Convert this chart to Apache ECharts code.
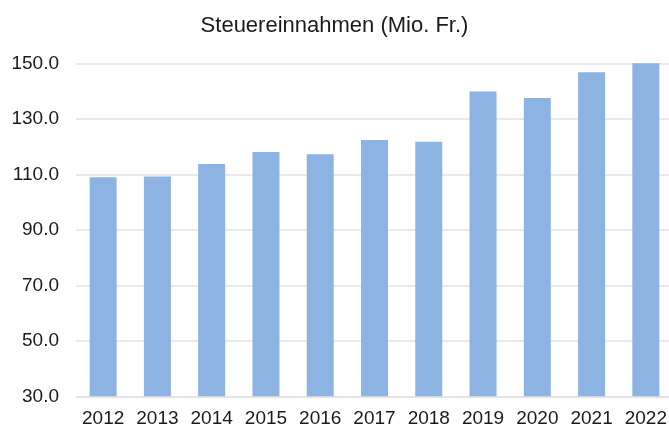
<!DOCTYPE html>
<html>
<head>
<meta charset="utf-8">
<script src="https://cdn.jsdelivr.net/npm/echarts@6/dist/echarts.min.js"></script>
<style>
  html, body { margin: 0; padding: 0; background: #fff; }
  #main { width: 669px; height: 428px; }
</style>
</head>
<body>
<div id="main"></div>
<script>
// Daten
var years = ['2012', '2013', '2014', '2015', '2016', '2017', '2018', '2019', '2020', '2021', '2022'];
var einnahmen = [108.9, 109.2, 113.7, 118.0, 117.2, 122.4, 121.7, 139.8, 137.5, 146.8, 150.0];

var myChart = echarts.init(document.getElementById('main'));

var option = {
  animation: false,
  title: {
    text: 'Steuereinnahmen (Mio. Fr.)',
    left: 'center',
    top: 10,
    textStyle: {
      fontFamily: 'Liberation Sans, Arial, sans-serif',
      fontSize: 22,
      fontWeight: 'normal',
      color: '#1a1a1a'
    }
  },
  grid: {
    left: 76,
    width: 597,
    top: 63.3,
    bottom: 31.7,
    containLabel: false,
    outerBoundsMode: 'none'
  },
  xAxis: {
    type: 'category',
    data: years,
    axisLine: { show: true, lineStyle: { color: '#e2e2e2', width: 1.5 } },
    axisTick: { show: false },
    axisLabel: {
      interval: 0,
      margin: 13,
      fontFamily: 'Liberation Sans, Arial, sans-serif',
      fontSize: 19,
      color: '#1a1a1a'
    }
  },
  yAxis: {
    type: 'value',
    min: 30,
    max: 150,
    interval: 20,
    axisLine: { show: false },
    axisTick: { show: false },
    splitLine: { lineStyle: { color: '#e2e2e2', width: 1.5 } },
    axisLabel: {
      margin: 17,
      formatter: function (v) { return v.toFixed(1); },
      fontFamily: 'Liberation Sans, Arial, sans-serif',
      fontSize: 19,
      color: '#1a1a1a'
    }
  },
  series: [
    {
      type: 'bar',
      data: einnahmen,
      barWidth: 27,
      itemStyle: { color: '#8db3e2' }
    }
  ]
};

myChart.setOption(option);
</script>
</body>
</html>
